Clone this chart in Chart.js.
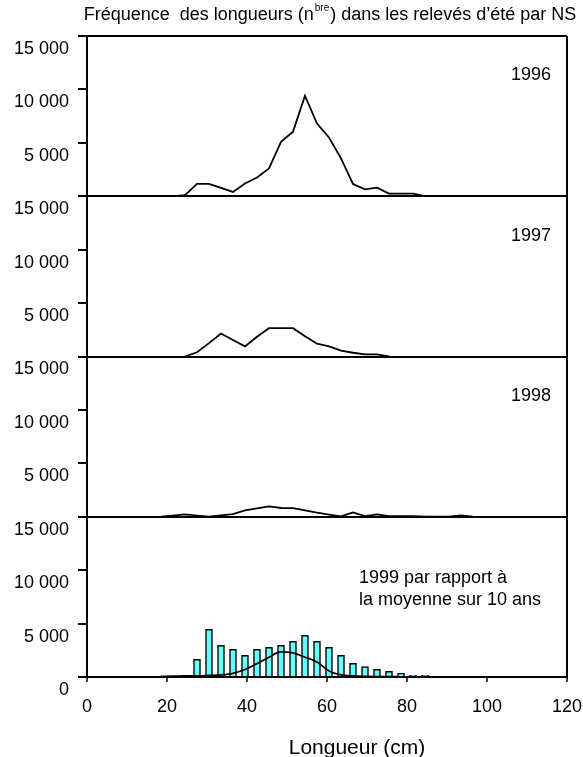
<!DOCTYPE html>
<html>
<head>
<meta charset="utf-8">
<script src="https://cdn.jsdelivr.net/npm/chart.js@4.4.0/dist/chart.umd.min.js"></script>
<style>
  html, body { margin: 0; padding: 0; background: #fff; }
  #wrap { width: 583px; height: 757px; }
</style>
</head>
<body>
<div id="wrap"><canvas id="freqChart"></canvas></div>
<script>
// length classes (cm, class centres, 3 cm wide)
const classes = [18.5, 21.5, 24.5, 27.5, 30.5, 33.5, 36.5, 39.5, 42.5, 45.5, 48.5, 51.5, 54.5,
                 57.5, 60.5, 63.5, 66.5, 69.5, 72.5, 75.5, 78.5, 81.5, 84.5, 87.5, 90.5, 93.5, 96.5];

// numbers per class
const n1996 = [null, 0, 100, 1150, 1150, 780, 400, 1200, 1750, 2600, 5100, 6050, 9400,
               6800, 5500, 3550, 1150, 650, 800, 250, 250, 250, 0, null, null, null, null];
const n1997 = [null, null, 0, 400, 1250, 2150, 1550, 950, 1850, 2650, 2650, 2650, 1900,
               1200, 950, 550, 350, 200, 200, 0, null, null, null, null, null, null, null];
const n1998 = [0, 110, 220, 100, 0, 120, 250, 600, 780, 970, 820, 800, 590,
               380, 200, 30, 400, 60, 220, 60, 60, 60, 0, 0, 0, 120, 0];
const n1999 = [null, null, null, 1650, 4470, 2970, 2590, 2030, 2590, 2780, 2970, 3340, 3900,
               3340, 2780, 2030, 1280, 970, 720, 530, 340, 150, 150, null, null, null, null];
const mean10 = [50, 80, 100, 100, 140, 200, 350, 700, 1250, 1850, 2350, 2250, 1850,
                1400, 560, 200, 100, 60, 40, 30, 20, 10, 0, null, null, null, null];

const yTicks = [0, 5000, 10000, 15000];
const xTicks = [0, 20, 40, 60, 80, 100, 120];

const FONT = '"Liberation Sans", Arial, Helvetica, sans-serif';
Chart.defaults.font.family = FONT;
Chart.defaults.color = '#000';

const pts = arr => classes.map((x, i) => ({ x: x, y: arr[i] }));
const fmt = v => String(v).replace(/\B(?=(\d{3})+(?!\d))/g, ' ');

// notes written inside the panels (position in data units)
const panelNotes = [
  { axis: 'y1', x: 116, y: 11300, align: 'right', lines: ['1996'] },
  { axis: 'y2', x: 116, y: 11300, align: 'right', lines: ['1997'] },
  { axis: 'y3', x: 116, y: 11300, align: 'right', lines: ['1998'] },
  { axis: 'y4', x: 68, y: 9300, align: 'left', lines: ['1999 par rapport à', 'la moyenne sur 10 ans'] }
];

const textPlugin = {
  id: 'panelTexts',
  afterDraw(chart) {
    const ctx = chart.ctx;
    const xs = chart.scales.x;
    const area = chart.chartArea;
    ctx.save();
    ctx.fillStyle = '#000';
    ctx.textBaseline = 'middle';
    ctx.font = '18px ' + FONT;
    panelNotes.forEach(n => {
      const ys = chart.scales[n.axis];
      ctx.textAlign = n.align;
      n.lines.forEach((line, i) => {
        ctx.fillText(line, xs.getPixelForValue(n.x), ys.getPixelForValue(n.y) + i * 22);
      });
    });

    // title with superscript "bre"
    const t1 = 'Fréquence  des longueurs (n', sup = 'bre', t2 = ') dans les relevés d’été par NS';
    ctx.textBaseline = 'alphabetic';
    ctx.textAlign = 'left';
    ctx.font = '18px ' + FONT;
    const w1 = ctx.measureText(t1).width, w2 = ctx.measureText(t2).width;
    ctx.font = '10px ' + FONT;
    const ws = ctx.measureText(sup).width + 2;
    let tx = (area.left + area.right) / 2 + 3 - (w1 + ws + w2) / 2;
    ctx.font = '18px ' + FONT;
    ctx.fillText(t1, tx, 20);
    ctx.font = '10px ' + FONT;
    ctx.fillText(sup, tx + w1 + 1, 11);
    ctx.font = '18px ' + FONT;
    ctx.fillText(t2, tx + w1 + ws, 20);

    // x axis title
    ctx.textAlign = 'center';
    ctx.font = '21px ' + FONT;
    ctx.fillText('Longueur (cm)', xs.getPixelForValue(67.5), chart.height - 3);
    ctx.restore();
  }
};

function panelAxis(weight, showZero) {
  return {
    type: 'linear',
    position: 'left',
    stack: 'panels',
    stackWeight: 1,
    weight: weight,
    min: 0,
    max: 15000,
    afterFit: s => { s.width = 87; },
    afterBuildTicks: s => { s.ticks = yTicks.map(v => ({ value: v })); },
    border: { display: true, color: '#000', width: 2 },
    grid: {
      color: c => (c.tick && (c.tick.value === 0 || c.tick.value === 15000)) ? '#000' : 'rgba(0,0,0,0)',
      lineWidth: 2,
      tickColor: '#000',
      tickWidth: 2,
      tickLength: 9
    },
    ticks: {
      labelOffset: 13,
      padding: 9,
      color: '#000',
      font: { size: 18 },
      callback: v => (v === 0 && !showZero) ? '' : fmt(v)
    }
  };
}

new Chart(document.getElementById('freqChart'), {
  type: 'line',
  data: {
    datasets: [
      { data: pts(n1996), yAxisID: 'y1', borderColor: '#000', borderWidth: 1.8, pointRadius: 0, tension: 0, fill: false },
      { data: pts(n1997), yAxisID: 'y2', borderColor: '#000', borderWidth: 1.8, pointRadius: 0, tension: 0, fill: false },
      { data: pts(n1998), yAxisID: 'y3', borderColor: '#000', borderWidth: 1.8, pointRadius: 0, tension: 0, fill: false },
      { data: pts(mean10), yAxisID: 'y4', borderColor: '#000', borderWidth: 1.8, pointRadius: 0,
        cubicInterpolationMode: 'monotone', fill: false },
      { type: 'bar', data: pts(n1999), yAxisID: 'y4', backgroundColor: '#66ffff', borderColor: '#000',
        borderWidth: 1.5, barThickness: 7 }
    ]
  },
  options: {
    responsive: true,
    maintainAspectRatio: false,
    animation: false,
    layout: { padding: { top: 36, right: 16, left: 0, bottom: 0 } },
    plugins: { legend: { display: false }, tooltip: { enabled: false }, title: { display: false } },
    scales: {
      x: {
        type: 'linear',
        min: 0,
        max: 120,
        offset: false,
        afterFit: s => { s.height = 80; s.paddingLeft = 0; s.paddingRight = 0; },
        afterBuildTicks: s => { s.ticks = xTicks.map(v => ({ value: v })); },
        border: { display: true, color: '#000', width: 2 },
        grid: {
          offset: false,
          color: c => (c.tick && c.tick.value === 120) ? '#000' : 'rgba(0,0,0,0)',
          lineWidth: 2,
          tickColor: '#000',
          tickWidth: 1.5,
          tickLength: 5
        },
        ticks: { padding: 14, color: '#000', font: { size: 18 }, maxRotation: 0, autoSkip: false }
      },
      y1: panelAxis(4, false),
      y2: panelAxis(3, false),
      y3: panelAxis(2, false),
      y4: panelAxis(1, true)
    }
  },
  plugins: [textPlugin]
});
</script>
</body>
</html>
